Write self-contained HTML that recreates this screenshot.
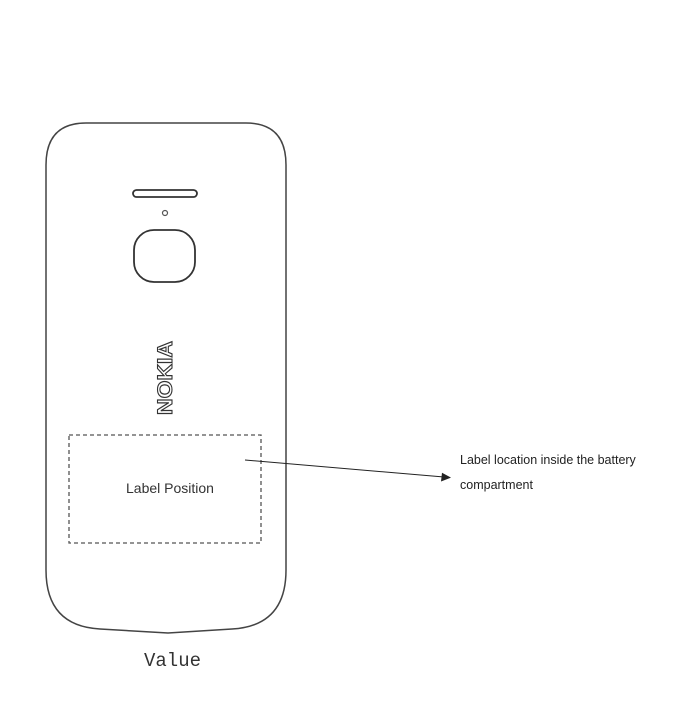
<!DOCTYPE html>
<html><head><style>
body{margin:0;background:#fff;}
</style></head><body>
<svg width="700" height="700" viewBox="0 0 700 700" xmlns="http://www.w3.org/2000/svg">
<path d="M86,123 L246,123 Q286,123 286,165 L286,570 Q286,626 232,629 L168,633 L100,629 Q46,626 46,570 L46,165 Q46,123 86,123 Z" fill="none" stroke="#444" stroke-width="1.5"/>
<rect x="133" y="190" width="64" height="7" rx="3.5" fill="none" stroke="#333" stroke-width="1.8"/>
<circle cx="165" cy="213" r="2.5" fill="none" stroke="#555" stroke-width="1.2"/>
<rect x="134" y="230" width="61" height="52" rx="20" fill="none" stroke="#333" stroke-width="1.8"/>
<text transform="translate(172,378) rotate(-90)" text-anchor="middle" font-family="Liberation Sans, sans-serif" font-weight="bold" font-size="21" fill="#fff" stroke="#333" stroke-width="1.1" textLength="74" lengthAdjust="spacingAndGlyphs">NOKIA</text>
<rect x="69" y="435" width="192" height="108" fill="none" stroke="#555" stroke-width="1.3" stroke-dasharray="4,3"/>
<text x="170" y="493" text-anchor="middle" font-family="Liberation Sans, sans-serif" font-size="14" fill="#333">Label Position</text>
<line x1="245" y1="460" x2="444" y2="477" stroke="#222" stroke-width="1"/>
<polygon points="451,477.6 441,481.5 442,472.8" fill="#222"/>
<text x="460" y="464" font-family="Liberation Sans, sans-serif" font-size="12.5" fill="#222">Label location inside the battery</text>
<text x="460" y="489" font-family="Liberation Sans, sans-serif" font-size="12.5" fill="#222">compartment</text>
<text x="144" y="666" font-family="Liberation Mono, monospace" font-size="19" fill="#333">Value</text>
</svg>
</body></html>
